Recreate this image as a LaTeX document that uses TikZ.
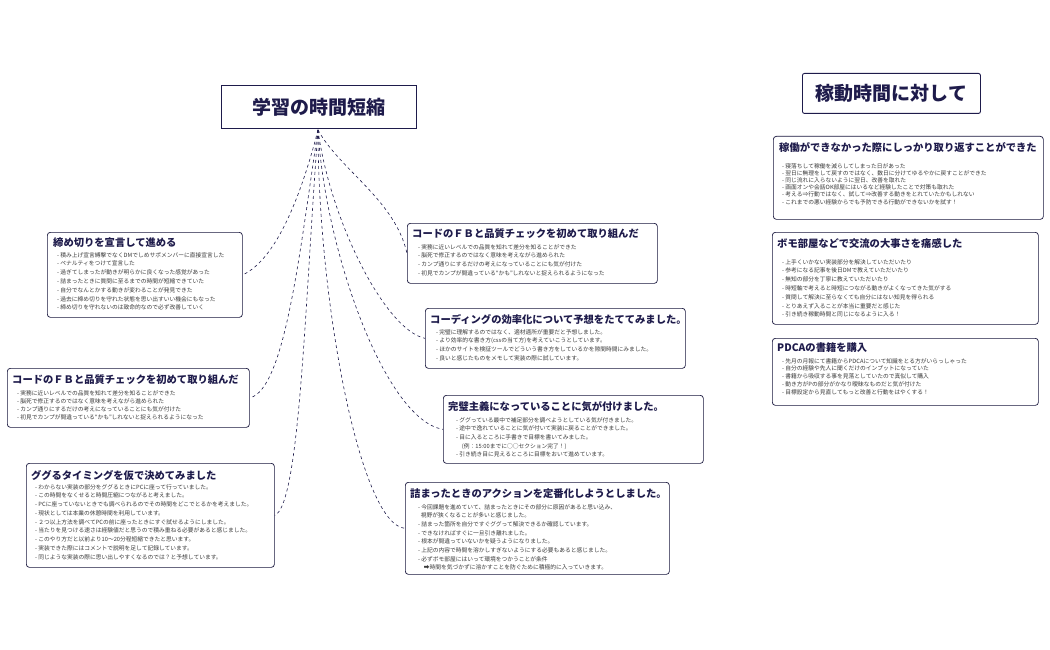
\documentclass[tikz,border=0pt]{standalone}
\usepackage{fontspec}
\setmainfont{Noto Sans CJK JP}
\definecolor{navy}{HTML}{1E1B4B}
\definecolor{txt}{HTML}{3A3A3A}
\begin{document}
\begin{tikzpicture}[x=1pt,y=-1pt,
  box/.style={draw=navy!80!black,line width=0.7pt,rounded corners=3pt,fill=white,anchor=north west,inner sep=0pt},
  hd/.style={anchor=west,inner sep=0pt,font=\fontsize{10.3}{12}\selectfont\bfseries,text=navy},
  bd/.style={anchor=north west,inner sep=0pt,align=left,font=\fontsize{5.75}{#1}\selectfont,text=txt},
  bd/.default=8.7,
  conn/.style={draw=navy,dashed,line width=0.6pt}]
\useasboundingbox (0,0) rectangle (1050,650);
\fill[white] (0,0) rectangle (1050,650);
% titles
\node[draw=navy,line width=0.9pt,fill=white,minimum width=195pt,minimum height=43pt,anchor=north west,font=\fontsize{19}{22}\selectfont\bfseries,text=navy] (t) at (221,85) {学習の時間短縮};
\node[draw=navy,line width=0.9pt,fill=white,rounded corners=2pt,minimum width=178pt,minimum height=40pt,anchor=north west,font=\fontsize{19}{22}\selectfont\bfseries,text=navy] (t2) at (802,73) {稼動時間に対して};
% left boxes
\node[box,minimum width=195pt,minimum height=85pt] (a1) at (47,232) {};
\node[hd] at (53,243) {締め切りを宣言して進める};
\node[bd=8.8] at (57,252) {- 積み上げ宣言縛撃でなくDMでしめサポメンバーに直接宣言した\\- ペナルティをつけて宣言した\\- 過ぎてしまったが動きが明らかに良くなった感覚があった\\- 詰まったときに質問に至るまでの時間が短縮できていた\\- 自分でなんとかする動きが変わることが発見できた\\- 過去に締め切りを守れた状態を思い出すいい機会にもなった\\- 締め切りを守れないのは致命的なので必ず改善していく};
\node[box,minimum width=242pt,minimum height=59pt] (a2) at (7,368) {};
\node[hd] at (12,380) {コードのＦＢと品質チェックを初めて取り組んだ};
\node[bd=8.0] at (17,390) {- 実務に近いレベルでの品質を知れて差分を知ることができた\\- 脳死で修正するのではなく意味を考えながら進められた\\- カンプ通りにするだけの考えになっていることにも気が付けた\\- 初見でカンプが間違っている“かも”しれないと捉えられるようになった};
\node[box,minimum width=248pt,minimum height=104pt] (a3) at (26,463) {};
\node[hd] at (31,475) {ググるタイミングを仮で決めてみました};
\node[bd=8.75] at (35,484) {- わからない実装の部分をググるときにPCに座って行っていました。\\- この時間をなくせると時間圧縮につながると考えました。\\- PCに座っていないときでも調べられるのでその時間をどこでとるかを考えました。\\- 現状としては本業の休憩時間を利用しています。\\- ２つ以上方法を調べてPCの前に座ったときにすぐ試せるようにしました。\\- 当たりを見つける速さは経験値だと思うので積み重ねる必要があると感じました。\\- このやり方だと以前より10〜20分程短縮できたと思います。\\- 実装できた際にはコメントで説明を足して記録しています。\\- 同じような実装の際に思い出しやすくなるのでは？と予想しています。};
% middle boxes
\node[box,minimum width=250pt,minimum height=60pt] (b1) at (407,223) {};
\node[hd] at (412,234) {コードのＦＢと品質チェックを初めて取り組んだ};
\node[bd] at (418,244) {- 実務に近いレベルでの品質を知れて差分を知ることができた\\- 脳死で修正するのではなく意味を考えながら進められた\\- カンプ通りにするだけの考えになっていることにも気が付けた\\- 初見でカンプが間違っている“かも”しれないと捉えられるようになった};
\node[box,minimum width=260pt,minimum height=60pt] (b2) at (425,308) {};
\node[hd] at (430,319) {コーディングの効率化について予想をたててみました。};
\node[bd] at (436,329) {- 完璧に理解するのではなく、適材適所が重要だと予想しました。\\- より効率的な書き方(cssの当て方)を考えていこうとしています。\\- ほかのサイトを検証ツールでどういう書き方をしているかを隙間時間にみました。\\- 良いと感じたものをメモして実装の際に試しています。};
\node[box,minimum width=260pt,minimum height=68pt] (b3) at (443,395) {};
\node[hd] at (448,407) {完璧主義になっていることに気が付けました。};
\node[bd] at (456,417) {- ググっている最中で補足部分を調べようとしている気が付きました。\\- 途中で逸れていることに気が付いて実装に戻ることができました。\\- 目に入るところに手書きで目標を書いてみました。\\\quad(例：15:00までに○○セクション完了！)\\- 引き続き目に見えるところに目標をおいて進めています。};
\node[box,minimum width=264pt,minimum height=92pt] (b4) at (405,482) {};
\node[hd] at (410,494) {詰まったときのアクションを定番化しようとしました。};
\node[bd] at (418,504) {- 今回課題を進めていて、詰まったときにその部分に原因があると思い込み、\\\ \ 視野が狭くなることが多いと感じました。\\- 詰まった箇所を自分ですぐググって解決できるか確認しています。\\- できなければすぐに一旦引き離れました。\\- 根本が間違っていないかを疑うようになりました。\\- 上記の内容で時間を溶かしすぎないようにする必要もあると感じました。\\- 必ずボモ部屋にはいって環境をつかうことが条件\\\quad ➡時間を気づかずに溶かすことを防ぐために積極的に入っていきます。};
% right boxes
\node[box,minimum width=270pt,minimum height=83pt] (c1) at (773,136) {};
\node[hd] at (779,147) {稼働ができなかった際にしっかり取り返すことができた};
\node[bd=7.2] at (782,163) {- 寝落ちして稼働を減らしてしまった日があった\\- 翌日に無理をして戻すのではなく、数日に分けてゆるやかに戻すことができた\\- 同じ流れに入らないように翌日、改善を取れた\\- 画面オンや会話OK部屋にはいるなど経験したことで対策も取れた\\- 考える⇒行動ではなく、試して⇒改善する動きをとれていたかもしれない\\- これまでの悪い経験からでも予防できる行動ができないかを試す！};
\node[box,minimum width=266pt,minimum height=92pt] (c2) at (772,232) {};
\node[hd] at (777,244) {ボモ部屋などで交流の大事さを痛感した};
\node[bd=8.8] at (782,259) {- 上手くいかない実装部分を解決していただいたり\\- 参考になる記事を後日DMで教えていただいたり\\- 無知の部分を丁寧に教えていただいたり\\- 時短軸で考えると時短につながる動きがよくなってきた気がする\\- 質問して解決に至らなくても自分にはない知見を得られる\\- とりあえず入ることが本当に重要だと感じた\\- 引き続き稼動時間と同じになるように入る！};
\node[box,minimum width=266pt,minimum height=67pt] (c3) at (772,338) {};
\node[hd] at (777,348) {PDCAの書籍を購入};
\node[bd=7.8] at (782,358) {- 先月の月報にて書籍からPDCAについて知識をとる方がいらっしゃった\\- 自分の経験や先人に聞くだけのインプットになっていた\\- 書籍から吸収する事を見落としていたので真似して購入\\- 動き方がPの部分がかなり曖昧なものだと気が付けた\\- 目標設定から見直してもっと改善と行動をはやくする！};
% connectors
\coordinate (s) at (318,130);
\draw[conn] (s) .. controls (300,200) and (275,260) .. (a1.east);
\draw[conn] (s) .. controls (300,250) and (285,390) .. (a2.east);
\draw[conn] (s) .. controls (305,300) and (300,505) .. (a3.east);
\draw[conn] (s) .. controls (340,170) and (395,200) .. (b1.west);
\draw[conn] (s) .. controls (330,220) and (385,330) .. (b2.west);
\draw[conn] (s) .. controls (325,250) and (385,420) .. (b3.west);
\draw[conn] (s) .. controls (318,300) and (360,525) .. (b4.west);
\end{tikzpicture}
\end{document}
